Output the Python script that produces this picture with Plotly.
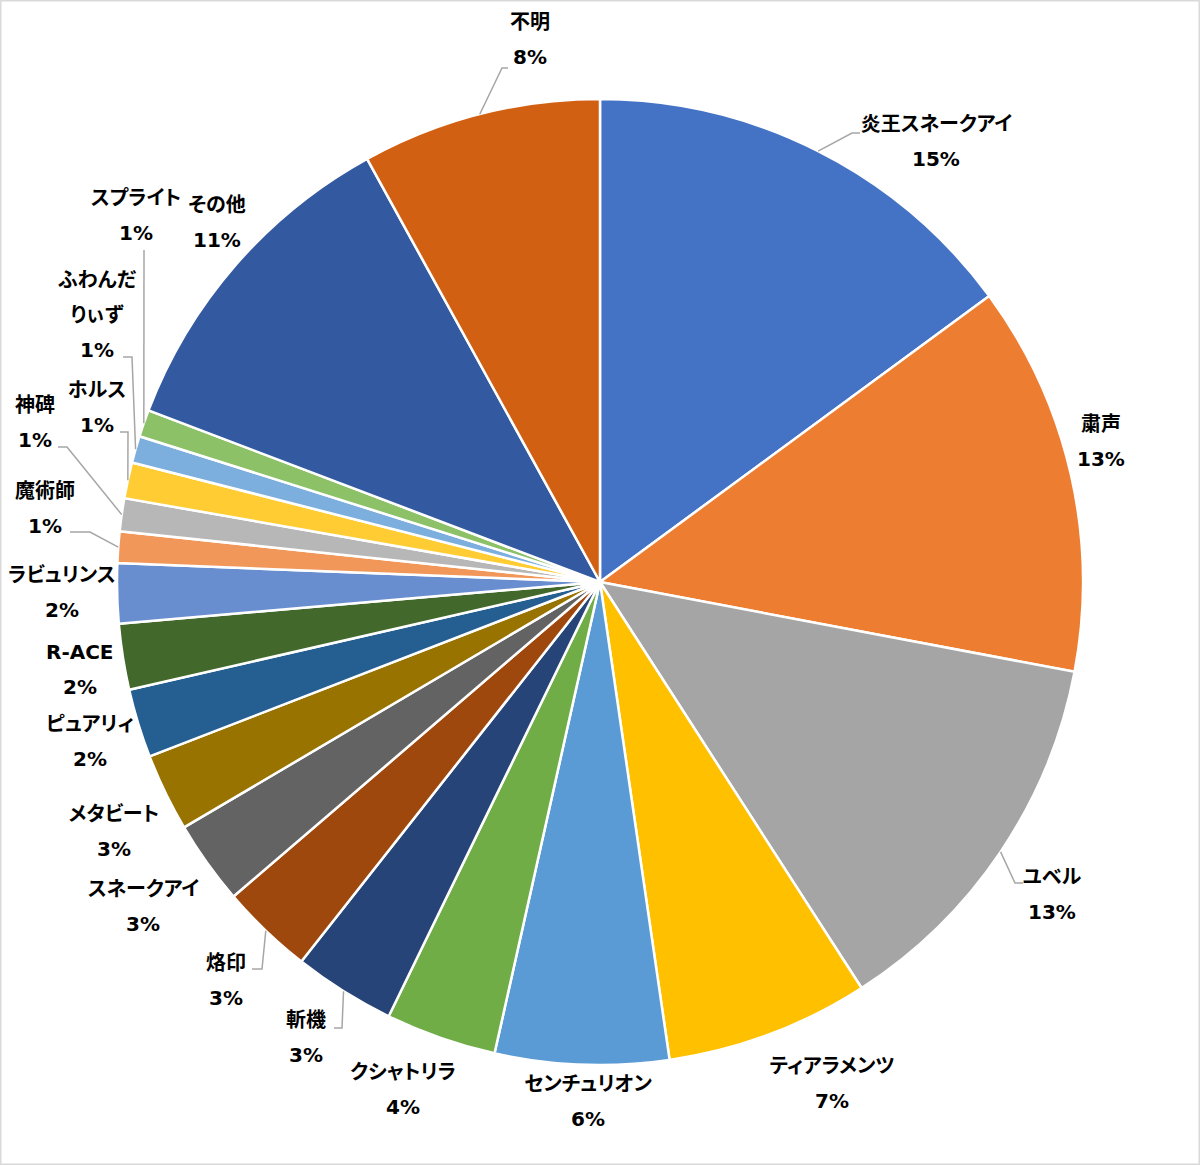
import math
import plotly.graph_objects as go

# ---- data ----
labels = ["炎王スネークアイ", "粛声", "ユベル", "ティアラメンツ", "センチュリオン", "クシャトリラ",
          "斬機", "烙印", "スネークアイ", "メタビート", "ピュアリィ", "R-ACE", "ラビュリンス",
          "魔術師", "神碑", "ホルス", "ふわんだりぃず", "スプライト", "その他", "不明"]
values = [14.9, 13.05, 12.9, 6.8, 5.8, 3.7, 3.4, 3.1, 2.8, 2.6, 2.3, 2.2, 2.0,
          1.05, 1.1, 1.2, 0.9, 0.9, 11.2, 8.0]
# label lines as displayed (name may wrap)
display_names = {"ふわんだりぃず": ["ふわんだ", "りぃず"]}

colors = ["#4472C4", "#ED7D31", "#A5A5A5", "#FFC000", "#5B9BD5", "#70AD47", "#264478",
          "#9E480E", "#636363", "#997300", "#255E91", "#43682B", "#698ED0", "#F1975A",
          "#B7B7B7", "#FFCD33", "#7CAFDD", "#8CC168", "#335AA1", "#D26012"]

# ---- layout (pixels) ----
W, H = 1200, 1165
CX, CY, R = 600, 582, 483
LINE_GAP = 35

# label top-line centre positions
label_pos = {
    "炎王スネークアイ": (936, 124), "粛声": (1101, 424), "ユベル": (1052, 877),
    "ティアラメンツ": (832, 1066), "センチュリオン": (588, 1084), "クシャトリラ": (403, 1072),
    "斬機": (306, 1020), "烙印": (226, 963), "スネークアイ": (143, 889), "メタビート": (114, 814),
    "ピュアリィ": (90, 724), "R-ACE": (80, 652), "ラビュリンス": (62, 575), "魔術師": (45, 491),
    "神碑": (35, 405), "ホルス": (97, 390), "ふわんだりぃず": (97, 280), "スプライト": (136, 198),
    "その他": (217, 205), "不明": (530, 22),
}
# leader lines: (elbow, end) from slice edge
leaders = {
    "炎王スネークアイ": ((852, 133), (860, 133)),
    "不明": ((502, 68), (508, 68)),
    "ユベル": ((1015, 883), (1023, 883)),
    "斬機": ((342, 1028), (334, 1028)),
    "烙印": ((262, 969), (252, 969)),
    "魔術師": ((90, 532), (70, 532)),
    "神碑": ((67, 447), (58, 447)),
    "ホルス": ((128, 432), (120, 432)),
    "ふわんだりぃず": ((132, 357), (123, 357)),
    "スプライト": ((144, 250), (144, 250)),
}


def px(x):
    return x / W


def py(y):
    return 1 - y / H


fig = go.Figure(go.Pie(
    labels=labels, values=values, sort=False, direction="clockwise", rotation=0,
    marker=dict(colors=colors, line=dict(color="white", width=2.5)),
    textinfo="none", hoverinfo="label+percent", showlegend=False,
    domain=dict(x=[px(CX - R), px(CX + R)], y=[py(CY + R), py(CY - R)]),
))

total = sum(values)
annotations = []
shapes = []
cum = 0.0
font = dict(family="DejaVu Sans, Noto Sans CJK JP", size=20, color="#000000")
for name, v in zip(labels, values):
    mid = (cum + v / 2) / total * 2 * math.pi
    cum += v
    pct = f"{round(v / total * 100)}%"
    lines = display_names.get(name, [name]) + [pct]
    lx, ly = label_pos[name]
    for k, t in enumerate(lines):
        annotations.append(dict(
            x=px(lx), y=py(ly + k * LINE_GAP), xref="paper", yref="paper",
            text=f"<b>{t}</b>", showarrow=False, font=font,
            xanchor="center", yanchor="middle"))
    if name in leaders:
        sx = CX + R * math.sin(mid)
        sy = CY - R * math.cos(mid)
        (ex, ey), (tx, ty) = leaders[name]
        path = f"M {px(sx)} {py(sy)} L {px(ex)} {py(ey)} L {px(tx)} {py(ty)}"
        shapes.append(dict(type="path", path=path, xref="paper", yref="paper",
                           line=dict(color="#A6A6A6", width=1.5)))

shapes.append(dict(type="rect", xref="paper", yref="paper", x0=0, y0=0, x1=1, y1=1,
                   line=dict(color="#D9D9D9", width=3)))

fig.update_layout(
    width=W, height=H, margin=dict(l=0, r=0, t=0, b=0),
    paper_bgcolor="white", plot_bgcolor="white",
    annotations=annotations, shapes=shapes,
)
# proportional kana spacing, like the original chart font
post = ("var s=document.createElement('style');"
        "s.textContent='.annotation-text{font-feature-settings:\"palt\" 1;}';"
        "document.head.appendChild(s);")
fig.write_html("out.html", post_script=post)
